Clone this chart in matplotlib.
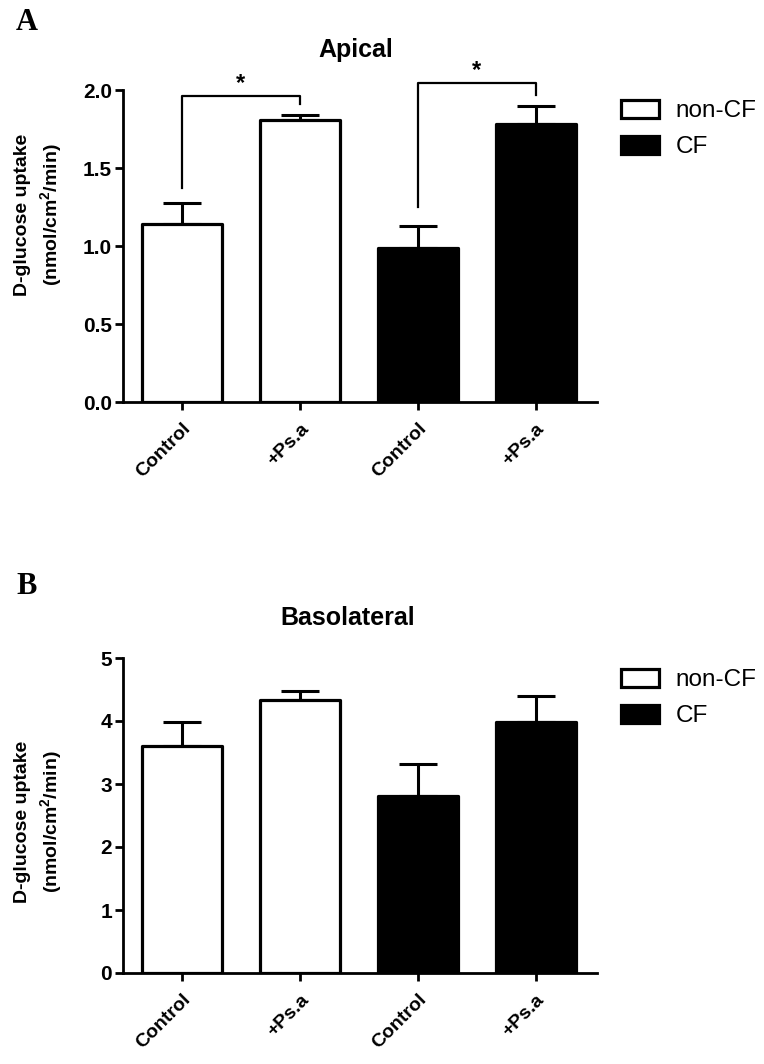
import matplotlib
matplotlib.use("Agg")
import matplotlib.pyplot as plt
from matplotlib.patches import Patch

plt.rcParams['font.family'] = ['Liberation Sans', 'DejaVu Sans']
plt.rcParams['mathtext.fontset'] = 'custom'
plt.rcParams['mathtext.rm'] = 'Liberation Sans:bold'
plt.rcParams['mathtext.it'] = 'Liberation Sans:bold'
plt.rcParams['mathtext.bf'] = 'Liberation Sans:bold'

# data
categories = ['Control', '+Ps.a', 'Control', '+Ps.a']
groups = ['non-CF', 'non-CF', 'CF', 'CF']
apical_mean = [1.14, 1.81, 0.99, 1.78]
apical_sem = [0.135, 0.03, 0.14, 0.12]
baso_mean = [3.60, 4.33, 2.81, 3.98]
baso_sem = [0.38, 0.14, 0.51, 0.42]
apical_ticks = [0.0, 0.5, 1.0, 1.5, 2.0]
baso_ticks = [0, 1, 2, 3, 4, 5]
# significance brackets (left bar, right bar, left leg bottom, top, right leg bottom)
apical_sig = [(0, 1, 1.37, 1.96, 1.91), (2, 3, 1.25, 2.045, 1.97)]

fill = {'non-CF': 'white', 'CF': 'black'}
W, H = 764, 1064
ylabel = 'D-glucose uptake\n(nmol/cm$^{2}$/min)'

fig = plt.figure(figsize=(W / 100, H / 100), dpi=100)


def panel(ax, means, sems, ticks, ymax, fmt, title, title_x):
    x = list(range(len(means)))
    bars = ax.bar(x, means, width=0.68, color=[fill[g] for g in groups],
                  edgecolor='black', linewidth=2.3, zorder=3)
    for b in bars:
        b.set_joinstyle('round')
    ax.errorbar(x, means, yerr=[[0] * len(sems), sems], fmt='none', ecolor='black',
                elinewidth=2.2, capsize=13.5, capthick=2.2, zorder=2)
    ax.set_xlim(-0.5, 3.52)
    ax.set_ylim(0, ymax)
    ax.set_yticks(ticks)
    ax.set_yticklabels([fmt.format(t) for t in ticks], fontsize=15, fontweight='bold')
    ax.set_xticks(x)
    ax.set_xticklabels(categories, rotation=45, ha='right', rotation_mode='anchor',
                       fontsize=14, fontweight='bold')
    for s in ['top', 'right']:
        ax.spines[s].set_visible(False)
    for s in ['left', 'bottom']:
        ax.spines[s].set_linewidth(2.0)
    ax.tick_params(width=2.0, length=6, direction='out', pad=2)
    ax.tick_params(axis='x', pad=7)
    ax.set_ylabel(ylabel, fontsize=14, fontweight='bold', linespacing=1.35)
    ax.set_title(title, fontsize=18, fontweight='bold', pad=24, x=title_x)
    handles = [Patch(facecolor='white', edgecolor='black', linewidth=2.3, label='non-CF'),
               Patch(facecolor='black', edgecolor='black', linewidth=2.3, label='CF')]
    return handles


axA = fig.add_axes([123 / W, 1 - 402 / H, 474 / W, 312 / H])
hA = panel(axA, apical_mean, apical_sem, apical_ticks, 2.0, '{:.1f}', 'Apical', 0.49)
axA.yaxis.set_label_coords(-0.125, 0.6)
for x0, x1, yl, yt, yr in apical_sig:
    axA.plot([x0, x0, x1, x1], [yl, yt, yt, yr], color='black', lw=1.6, clip_on=False)
    axA.text((x0 + x1) / 2, yt + 0.005, '*', ha='center', va='bottom', fontsize=17,
             fontweight='bold', clip_on=False)

axB = fig.add_axes([123 / W, 1 - 973 / H, 474 / W, 315 / H])
hB = panel(axB, baso_mean, baso_sem, baso_ticks, 5, '{:d}', 'Basolateral', 0.475)
axB.yaxis.set_label_coords(-0.125, 0.48)

for h, y in [(hA, 1 - 100 / H), (hB, 1 - 669 / H)]:
    fig.legend(handles=h, loc='upper left', bbox_to_anchor=(621 / W, y), frameon=False,
               fontsize=17.5, handlelength=1.55, handleheight=0.75, handletextpad=0.7,
               labelspacing=0.55, borderpad=0, borderaxespad=0)

fig.text(16 / W, 1 - 23 / H, 'A', fontsize=22, fontweight='bold', va='center',
         family='Liberation Serif')
fig.text(16 / W, 1 - 587 / H, 'B', fontsize=22, fontweight='bold', va='center',
         family='Liberation Serif')

fig.savefig('out.png', dpi=100)
